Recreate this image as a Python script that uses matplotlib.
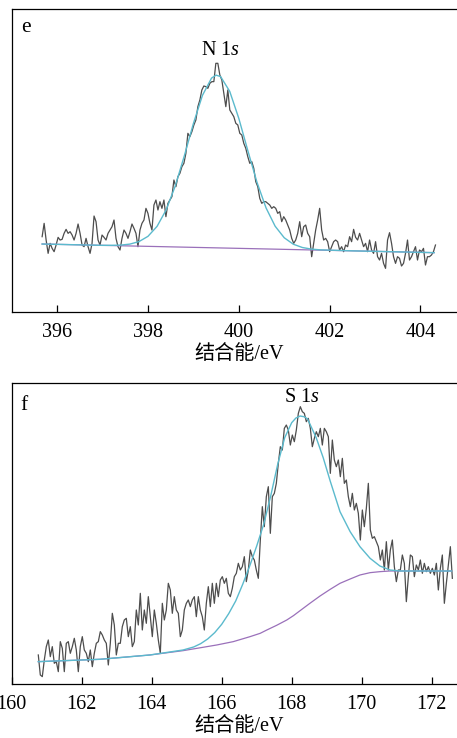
import numpy as np
import matplotlib
matplotlib.use("Agg")
import matplotlib.pyplot as plt

plt.rcParams["font.family"] = ["Liberation Serif", "Noto Sans CJK SC"]
plt.rcParams["mathtext.fontset"] = "custom"
plt.rcParams["mathtext.rm"] = "Liberation Serif"
plt.rcParams["mathtext.it"] = "Liberation Serif:italic"

# ---- panel e : N 1s ----
n_start, n_stop = 395.67, 404.33
n_counts = [225, 265, 215, 175, 205, 190, 180, 200, 223, 215,
            217, 235, 247, 235, 240, 230, 215, 235, 263, 235,
            200, 195, 220, 195, 175, 205, 287, 270, 215, 200,
            230, 223, 215, 235, 245, 255, 275, 220, 195, 185,
            220, 245, 235, 220, 240, 263, 250, 235, 195, 245,
            265, 275, 310, 295, 265, 245, 320, 335, 305, 330,
            310, 335, 285, 325, 335, 345, 395, 375, 405, 415,
            435, 445, 475, 535, 525, 540, 560, 575, 615, 635,
            665, 677, 675, 670, 685, 690, 690, 745, 745, 710,
            695, 655, 615, 665, 605, 595, 585, 565, 560, 535,
            530, 505, 490, 465, 445, 450, 430, 390, 375, 340,
            325, 330, 330, 325, 320, 310, 315, 310, 295, 300,
            270, 285, 275, 260, 245, 220, 205, 215, 235, 270,
            225, 255, 260, 235, 225, 165, 205, 245, 275, 310,
            245, 215, 220, 210, 180, 195, 210, 215, 210, 185,
            195, 180, 200, 195, 225, 210, 247, 223, 215, 235,
            215, 195, 205, 180, 215, 185, 175, 210, 165, 155,
            175, 145, 130, 215, 237, 205, 165, 145, 165, 160,
            137, 145, 175, 215, 155, 165, 180, 195, 155, 185,
            180, 190, 140, 165, 165, 170, 180, 200]
n_fit_x = [395.67, 396.5, 397.0, 397.2, 397.4, 397.6, 397.8, 398.0, 398.2,
           398.4, 398.6, 398.8, 399.0, 399.2, 399.4, 399.5, 399.6, 399.8,
           400.0, 400.2, 400.4, 400.6, 400.8, 401.0, 401.2, 401.4, 401.6,
           401.8, 402.5, 403.5, 404.3]
n_bg = [203.0, 200.5, 199.0, 198.4, 197.8, 197.2, 196.6, 196.0, 195.4,
        194.8, 194.2, 193.6, 193.0, 192.4, 191.8, 191.5, 191.2, 190.6,
        190.0, 189.4, 188.8, 188.2, 187.6, 187.0, 186.4, 185.8, 185.2,
        184.6, 182.5, 179.5, 177.1]
n_peak = [0, 0, 0, 0.7, 2.0, 5.5, 13.5, 30.0, 60.5,
          110.4, 182.5, 273.5, 371.2, 456.6, 508.9, 518.0, 513.9, 470.3,
          389.9, 293.0, 199.5, 123.1, 68.8, 34.8, 16.0, 6.7, 2.5,
          0.9, 0, 0, 0]
n_ticks = [396, 398, 400, 402, 404]

# ---- panel f : S 1s ----
s_start, s_stop = 160.76, 172.59
s_counts = [88, 28, 23, 73, 113, 133, 83, 113, 63, 68,
            38, 128, 108, 38, 123, 128, 93, 113, 138, 103,
            38, 113, 143, 103, 93, 68, 103, 53, 93, 123,
            128, 158, 148, 133, 123, 58, 123, 213, 178, 88,
            123, 123, 173, 193, 198, 143, 173, 113, 128, 223,
            178, 273, 163, 223, 183, 263, 203, 143, 223, 183,
            133, 93, 243, 193, 223, 303, 283, 213, 263, 223,
            213, 143, 163, 223, 243, 253, 233, 253, 263, 203,
            263, 223, 203, 163, 243, 293, 233, 303, 243, 303,
            263, 313, 323, 303, 318, 273, 263, 288, 323, 333,
            363, 343, 353, 383, 308, 343, 403, 383, 373, 343,
            318, 433, 533, 473, 563, 593, 453, 563, 573, 603,
            663, 713, 703, 768, 778, 763, 718, 748, 728, 763,
            813, 833, 818, 813, 788, 798, 768, 713, 738, 758,
            743, 768, 718, 768, 758, 743, 633, 733, 673, 653,
            673, 623, 678, 603, 613, 563, 533, 573, 523, 543,
            513, 433, 523, 473, 528, 603, 463, 438, 443, 428,
            413, 373, 403, 343, 428, 343, 403, 433, 353, 308,
            343, 343, 388, 363, 248, 323, 388, 383, 323, 358,
            343, 373, 333, 363, 338, 353, 333, 348, 328, 363,
            283, 348, 388, 243, 303, 358, 413, 318]
s_env_x = [160.76, 162.52, 163.95, 164.90, 165.2, 165.4, 165.6, 165.8,
           166.0, 166.2, 166.4, 166.6, 166.8, 167.0, 167.2, 167.4, 167.6,
           167.8, 168.0, 168.12, 168.24, 168.35, 168.45, 168.7, 168.9,
           169.1, 169.38, 169.67, 169.95, 170.24, 170.52, 170.81, 171.10,
           171.86, 172.57]
s_env = [68, 75, 88, 103, 112, 122, 136, 155,
         180, 212, 250, 300, 355, 415, 480, 565, 660,
         740, 785, 799, 805, 803, 797, 740, 680,
         610, 518, 458, 413, 378, 355, 343, 340,
         340, 340]
s_bg_x = [160.76, 162.52, 163.95, 164.90, 165.86, 166.33, 166.81, 167.10,
          167.29, 167.57, 167.86, 168.05, 168.24, 168.52, 168.81, 169.10,
          169.38, 169.67, 169.95, 170.24, 170.52, 170.81, 171.10, 172.57]
s_bg = [68, 75, 88, 101, 118, 128, 143, 153,
        163, 177, 193, 206, 221, 243, 265, 285,
        303, 316, 328, 335, 338, 340, 340, 340]
s_ticks = [160, 162, 164, 166, 168, 170, 172]

raw_color = "#4d4d4d"
fit_color = "#5bbacd"
bg_color = "#9a70ba"

W, H = 457, 738
fig = plt.figure(figsize=(W / 100, H / 100), dpi=100)
ax1 = fig.add_axes([11.7 / W, (H - 311.7) / H, 454.2 / W, 302.4 / H])
ax2 = fig.add_axes([11.7 / W, (H - 684.3) / H, 455.0 / W, 301.6 / H])

# e
nx = np.linspace(n_start, n_stop, len(n_counts))
ax1.plot(nx, n_counts, color=raw_color, lw=0.9)
ax1.plot(n_fit_x, n_bg, color=bg_color, lw=0.9)
ax1.plot(n_fit_x, np.add(n_bg, n_peak), color=fit_color, lw=1.0)
ax1.set_xlim(395, 405)
ax1.set_ylim(0, 907)
ax1.set_xticks(n_ticks)
ax1.text(0.0205, 0.926, "e", transform=ax1.transAxes, fontsize=15.5)
ax1.text(0.4586, 0.849, r"N 1$s$", transform=ax1.transAxes, fontsize=14.5, ha="center")

# f
sx = np.linspace(s_start, s_stop, len(s_counts))
ax2.plot(sx, s_counts, color=raw_color, lw=0.9)
ax2.plot(s_bg_x, s_bg, color=bg_color, lw=0.9)
ax2.plot(s_env_x, s_env, color=fit_color, lw=1.0)
ax2.set_xlim(160, 173)
ax2.set_ylim(0, 905)
ax2.set_xticks(s_ticks)
ax2.text(0.0198, 0.909, "f", transform=ax2.transAxes, fontsize=15.5)
ax2.text(0.637, 0.937, r"S 1$s$", transform=ax2.transAxes, fontsize=14.5, ha="center")

for ax in (ax1, ax2):
    ax.set_yticks([])
    ax.tick_params(axis="x", direction="in", length=4.8, width=0.9, pad=8, labelsize=14.5)
    for sp in ax.spines.values():
        sp.set_linewidth(0.9)
    ax.set_xlabel("结合能/eV", fontsize=14.5, labelpad=2)

fig.savefig("out.png", dpi=100)
